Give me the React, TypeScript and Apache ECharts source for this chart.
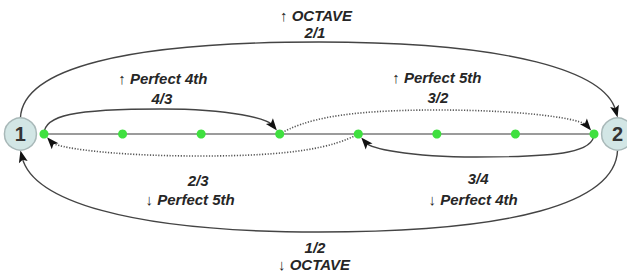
import React, { useEffect, useRef } from "react";
import * as echarts from "echarts";

// ---- data ----
const dotPositions = [0, 1, 2, 3, 4, 5, 6, 7];
const nodeLabels = ["1", "2"];
const nodePositions = [-0.3, 7.3];

const arcNames = ["OCTAVE", "Perfect 4th", "Perfect 5th", "Perfect 5th", "Perfect 4th", "OCTAVE"];
const arcRatios = ["2/1", "4/3", "3/2", "2/3", "3/4", "1/2"];
const arcFrom = [-0.3, 0, 3, 4, 7, 7.3];
const arcTo = [7.3, 3, 7, 0, 4, -0.3];
const arcUp = [true, true, true, false, false, false];
const arcDotted = [false, false, true, true, false, false];

// ---- styles (px) ----
const arcDepth = [92, 25, 24, 22, 23, 98];
const arcStartLean = [2, 0, 25, 25, 0, 2];
const arcStartK = [0.65, 0.75, 0.6, 0.6, 0.75, 0.65];
const arcEndK = [0.65, 0.6, 0.6, 0.6, 0.6, 0.65];
const labelGap = [10, 11, 13, 24, 21, 15];
const lineGap = [17, 20, 20, 19, 21, 17];
const ratioDx = [-4, 0, 1, -3, 2, -4];
const nameDx = [-3, 1, 0, -11, -3, -5];

const FONT = '"Liberation Sans", Arial, sans-serif';
const TEXT_COLOR = "#262626";
const NODE_R = 16;
const DOT_R = 4.5;

function isNode(x: number) {
  return nodePositions.some((p) => Math.abs(p - x) < 1e-6);
}

function renderArc(params: any, api: any) {
  const i = api.value(2);
  const from = api.value(0);
  const to = api.value(1);
  const p0 = api.coord([from, 0]);
  const p1 = api.coord([to, 0]);
  const base = p0[1];
  const up = arcUp[i];
  const s = up ? -1 : 1;
  const dir = p1[0] > p0[0] ? 1 : -1;
  const fromNode = isNode(from);
  const toNode = isNode(to);
  const S = [p0[0], p0[1] + (fromNode ? s * NODE_R : 0)];
  const Ec = [p1[0], p1[1] + (toNode ? s * (NODE_R + 0.5) : 0)];
  const M = [(S[0] + Ec[0]) / 2, base + s * arcDepth[i]];
  const hw = Math.abs(Ec[0] - S[0]) / 2;
  const hS = Math.abs(M[1] - S[1]);
  const hE = Math.abs(M[1] - Ec[1]);
  const k = arcStartK[i];
  const ke = arcEndK[i];
  const C1 = [S[0] + dir * arcStartLean[i], S[1] + s * k * hS];
  const C2 = [M[0] - dir * k * hw, M[1]];
  const C3 = [M[0] + dir * ke * hw, M[1]];
  const C4 = [Ec[0] - dir * 12, Ec[1] + s * 0.6 * hE];
  let ux = Ec[0] - C4[0];
  let uy = Ec[1] - C4[1];
  const ul = Math.hypot(ux, uy);
  ux /= ul;
  uy /= ul;
  const T = toNode ? Ec : [Ec[0] - ux * DOT_R, Ec[1] - uy * DOT_R];
  const L = 12;
  const AW = 4.5;
  const B = [T[0] - ux * L, T[1] - uy * L];
  const nx = -uy;
  const ny = ux;
  const E = [T[0] - ux * 7, T[1] - uy * 7];
  const d =
    `M${S[0]},${S[1]} C${C1[0]},${C1[1]} ${C2[0]},${C2[1]} ${M[0]},${M[1]} ` +
    `C${C3[0]},${C3[1]} ${C4[0]},${C4[1]} ${E[0]},${E[1]}`;

  const ratioY = M[1] + s * labelGap[i];
  const nameY = ratioY + s * lineGap[i];
  const nameText = (up ? "\u2191 " : "\u2193 ") + arcNames[i];
  const textStyle = {
    fill: TEXT_COLOR,
    fontFamily: FONT,
    fontWeight: "bold",
    fontStyle: "italic",
    fontSize: 15,
    align: "center",
    verticalAlign: "middle",
  };
  return {
    type: "group",
    children: [
      {
        type: "path",
        shape: { pathData: d },
        style: arcDotted[i]
          ? { fill: "none", stroke: "#555", lineWidth: 1.6, lineDash: [1.2, 1.6] }
          : { fill: "none", stroke: "#444", lineWidth: 1.4 },
      },
      {
        type: "polygon",
        shape: {
          points: [
            T,
            [B[0] + nx * AW, B[1] + ny * AW],
            [B[0] + ux * 2.5, B[1] + uy * 2.5],
            [B[0] - nx * AW, B[1] - ny * AW],
          ],
        },
        style: { fill: "#111" },
      },
      {
        type: "text",
        x: M[0] + ratioDx[i],
        y: ratioY,
        style: { ...textStyle, text: arcRatios[i] },
      },
      {
        type: "text",
        x: M[0] + nameDx[i],
        y: nameY,
        style: { ...textStyle, text: nameText },
      },
    ],
  };
}

export default function App() {
  const ref = useRef<HTMLDivElement>(null);
  useEffect(() => {
    if (!ref.current) return;
    const chart = echarts.init(ref.current, undefined, { renderer: "svg" });
    chart.setOption({
      animation: false,
      backgroundColor: "#ffffff",
      grid: { left: 44, right: 33, top: 0, bottom: 6 },
      xAxis: { type: "value", min: 0, max: 7, show: false },
      yAxis: { type: "value", min: -1, max: 1, show: false },
      series: [
        {
          type: "line",
          z: 1,
          symbol: "none",
          silent: true,
          clip: false,
          data: [
            [nodePositions[0], 0],
            [nodePositions[1], 0],
          ],
          lineStyle: { color: "#7a7a7a", width: 1.3 },
        },
        {
          type: "custom",
          z: 2,
          clip: false,
          silent: true,
          renderItem: renderArc,
          data: arcFrom.map((f, i) => [f, arcTo[i], i]),
        },
        {
          type: "scatter",
          z: 3,
          silent: true,
          clip: false,
          symbolSize: 9,
          data: dotPositions.map((x) => [x, 0]),
          itemStyle: { color: "#3fe03f", opacity: 1 },
        },
        {
          type: "scatter",
          z: 4,
          silent: true,
          clip: false,
          symbolSize: NODE_R * 2,
          data: nodePositions.map((x, i) => ({ value: [x, 0], name: nodeLabels[i] })),
          itemStyle: { color: "#d2e6e5", borderColor: "#a8b8b8", borderWidth: 1.5, opacity: 1 },
          label: {
            show: true,
            position: "inside",
            formatter: (p: any) => p.name,
            color: "#333",
            fontFamily: FONT,
            fontWeight: "bold",
            fontSize: 20,
          },
        },
      ],
    });
    return () => chart.dispose();
  }, []);
  return (
    <div
      ref={ref}
      style={{ position: "absolute", left: 0, top: 0, width: 627, height: 274, background: "#fff" }}
    />
  );
}
